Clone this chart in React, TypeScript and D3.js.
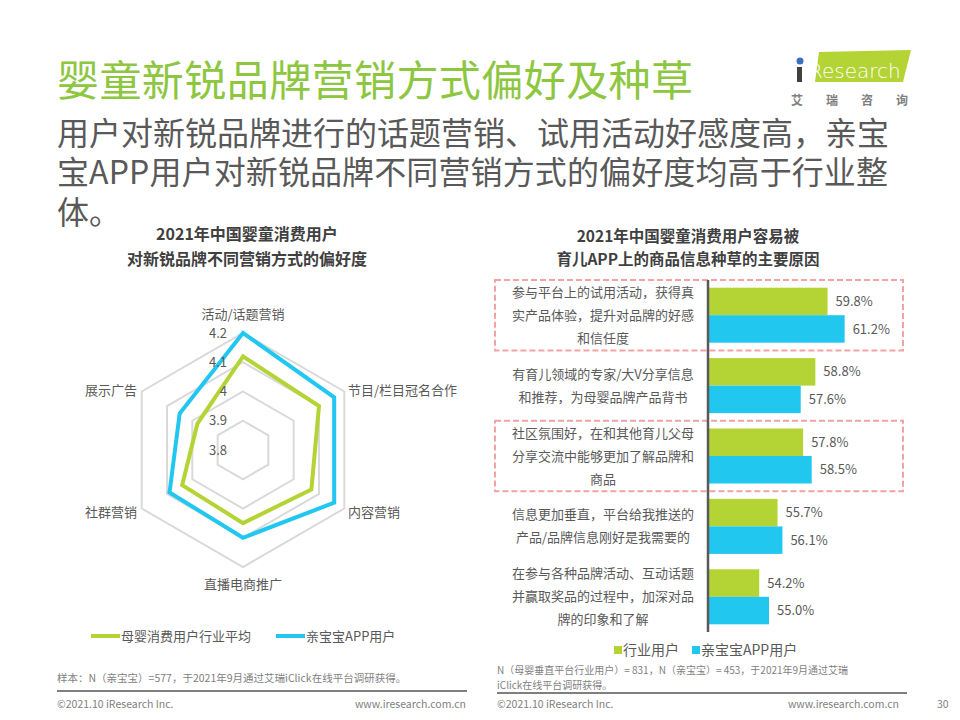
import React from "react";
import * as d3 from "d3";

const radarAxes = ["活动/话题营销", "节目/栏目冠名合作", "内容营销", "直播电商推广", "社群营销", "展示广告"];
const radarIndustry = [4.12, 4.1, 4.07, 4.05, 4.04, 3.98];
const radarApp = [4.2, 4.16, 4.16, 4.1, 4.09, 4.05];
const radarTicks = [3.8, 3.9, 4, 4.1, 4.2];
const radarSeries = ["母婴消费用户行业平均", "亲宝宝APP用户"];

const barCategories = [
  "参与平台上的试用活动，获得真\n实产品体验，提升对品牌的好感\n和信任度",
  "有育儿领域的专家/大V分享信息\n和推荐，为母婴品牌产品背书",
  "社区氛围好，在和其他育儿父母\n分享交流中能够更加了解品牌和\n商品",
  "信息更加垂直，平台给我推送的\n产品/品牌信息刚好是我需要的",
  "在参与各种品牌活动、互动话题\n并赢取奖品的过程中，加深对品\n牌的印象和了解",
];
const barIndustry = [59.8, 58.8, 57.8, 55.7, 54.2];
const barApp = [61.2, 57.6, 58.5, 56.1, 55.0];
const barSeries = ["行业用户", "亲宝宝APP用户"];
const highlighted = [0, 2];

const GREEN = "#b4d334";
const BLUE = "#22c7ef";
const TEXT = "#595959";
const FONT = "'Noto Sans CJK SC', 'Noto Sans', sans-serif";

export default function App() {
  // radar
  const cx = 243, cy = 450;
  const r = d3.scaleLinear().domain([3.8, 4.2]).range([0, 117]);
  const ang = (i: number) => (i * 2 * Math.PI) / radarAxes.length;
  const pt = (i: number, v: number): [number, number] => [cx + r(v) * Math.sin(ang(i)), cy - r(v) * Math.cos(ang(i))];
  const closed = d3.line<[number, number]>().curve(d3.curveLinearClosed);
  const ringPath = (v: number) => closed(radarAxes.map((_, i) => pt(i, v))) as string;
  const seriesPath = (vals: number[]) => closed(vals.map((v, i) => pt(i, v))) as string;

  const labelPos = [
    { x: 243, y: 314, anchor: "middle" },
    { x: 348, y: 390, anchor: "start" },
    { x: 348, y: 512, anchor: "start" },
    { x: 243, y: 584, anchor: "middle" },
    { x: 137, y: 512, anchor: "end" },
    { x: 137, y: 390, anchor: "end" },
  ];

  // bars
  const y0 = d3.scaleBand<number>().domain(barCategories.map((_, i) => i)).range([280, 632]).padding(0);
  const y1 = d3.scaleBand<string>().domain(barSeries).range([0, y0.bandwidth()]).paddingInner(0).paddingOuter(0.28);
  const x = d3.scaleLinear().domain([50, 70]).range([708, 952]);
  const barColors = [GREEN, BLUE];
  const barData = [barIndustry, barApp];

  return (
    <svg width={960} height={720} style={{ display: "block", position: "absolute", left: 0, top: 0 }} fontFamily={FONT}>
      <rect width={960} height={720} fill="#fff" />
      {/* title */}
      <text x={57} y={96} fontSize={42} fill="#8dc63f" textLength={636} lengthAdjust="spacing">婴童新锐品牌营销方式偏好及种草</text>
      <text x={57} y={145} fontSize={32} fill={TEXT}>用户对新锐品牌进行的话题营销、试用活动好感度高，亲宝</text>
      <text x={57} y={184} fontSize={32} fill={TEXT} textLength={831} lengthAdjust="spacing">宝APP用户对新锐品牌不同营销方式的偏好度均高于行业整</text>
      <text x={57} y={224} fontSize={32} fill={TEXT}>体。</text>

      {/* logo */}
      <polygon points="819,52 911,50 903,82 815,82" fill="#b4d334" />
      <circle cx={800} cy={61} r={3.5} fill="#3a6fc4" />
      <rect x={797} y={67} width={5} height={15} fill="#404040" />
      <text x={809} y={78} fontSize={20} fill="#fff" fontFamily="'DejaVu Sans', sans-serif" fontWeight={300}>Research</text>
      {["艾", "瑞", "咨", "询"].map((c, i) => (
        <text key={c} x={797 + i * 35} y={105} fontSize={12} fontWeight="bold" fill="#7f7f7f" textAnchor="middle">{c}</text>
      ))}

      {/* left chart title */}
      <text x={247} y={240} fontSize={16} fontWeight="bold" fill="#404040" textAnchor="middle">2021年中国婴童消费用户</text>
      <text x={247} y={265} fontSize={16} fontWeight="bold" fill="#404040" textAnchor="middle">对新锐品牌不同营销方式的偏好度</text>

      {/* radar rings */}
      {radarTicks.slice(1).map((t) => (
        <path key={t} d={ringPath(t)} fill="none" stroke="#d9d9d9" strokeWidth={2} />
      ))}
      <path d={seriesPath(radarIndustry)} fill="none" stroke={GREEN} strokeWidth={4} strokeLinejoin="miter" />
      <path d={seriesPath(radarApp)} fill="none" stroke={BLUE} strokeWidth={4} strokeLinejoin="miter" />
      {radarTicks.map((t) => (
        <text key={t} x={cx - 16} y={cy - r(t)} dy="0.35em" fontSize={13} fill={TEXT} textAnchor="end">{String(t)}</text>
      ))}
      {radarAxes.map((a, i) => (
        <text key={a} x={labelPos[i].x} y={labelPos[i].y} dy="0.35em" fontSize={13} fill={TEXT} textAnchor={labelPos[i].anchor as any}>{a}</text>
      ))}
      {/* radar legend */}
      {radarSeries.map((s, i) => (
        <g key={s} transform={`translate(${91 + i * 185},636)`}>
          <line x1={0} x2={29} y1={0} y2={0} stroke={i === 0 ? GREEN : BLUE} strokeWidth={4} />
          <text x={30} y={0} dy="0.35em" fontSize={13} fill={TEXT}>{s}</text>
        </g>
      ))}

      {/* right chart title */}
      <text x={688} y={242} fontSize={15.5} fontWeight="bold" fill="#404040" textAnchor="middle">2021年中国婴童消费用户容易被</text>
      <text x={688} y={265} fontSize={15.5} fontWeight="bold" fill="#404040" textAnchor="middle">育儿APP上的商品信息种草的主要原因</text>

      {/* highlight boxes */}
      {highlighted.map((gi) => (
        <rect key={gi} x={495} y={y0(gi)!} width={408} height={y0.bandwidth()} fill="none" stroke="#f4a3a3" strokeWidth={2} strokeDasharray="6,3" />
      ))}

      {/* bars */}
      {barCategories.map((c, gi) => (
        <g key={gi}>
          {barSeries.map((s, si) => {
            const v = barData[si][gi];
            const by = y0(gi)! + y1(s)!;
            return (
              <g key={s}>
                <rect x={x(50)} y={by} width={x(v) - x(50)} height={y1.bandwidth()} fill={barColors[si]} />
                <text x={x(v) + 8} y={by + y1.bandwidth() / 2} dy="0.35em" fontSize={13} fill={TEXT}>{v.toFixed(1)}%</text>
              </g>
            );
          })}
          {c.split("\n").map((line, li, arr) => (
            <text key={li} x={603} y={y0(gi)! + y0.bandwidth() / 2 + (li - (arr.length - 1) / 2) * 23} dy="0.35em" fontSize={13} fill={TEXT} textAnchor="middle">{line}</text>
          ))}
        </g>
      ))}
      <line x1={708} x2={708} y1={280} y2={632} stroke="#595959" strokeWidth={2.5} />

      {/* bar legend */}
      {barSeries.map((s, i) => (
        <g key={s} transform={`translate(${614 + i * 78},650)`}>
          <rect x={0} y={-4} width={8} height={8} fill={barColors[i]} />
          <text x={9} y={0} dy="0.35em" fontSize={14} fill={TEXT}>{s}</text>
        </g>
      ))}

      {/* footnotes */}
      <text x={57} y={678} dy="0.35em" fontSize={10.5} fill="#7f7f7f">样本：N（亲宝宝）=577，于2021年9月通过艾瑞iClick在线平台调研获得。</text>
      <line x1={57} x2={467} y1={691} y2={691} stroke="#7f7f7f" strokeWidth={2} />
      <text x={57} y={704} dy="0.35em" fontSize={10.5} fill="#7f7f7f">©2021.10 iResearch Inc.</text>
      <text x={466} y={704} dy="0.35em" fontSize={10.5} fill="#7f7f7f" textAnchor="end">www.iresearch.com.cn</text>

      <text x={497} y={670} dy="0.35em" fontSize={10} fill="#7f7f7f">N（母婴垂直平台行业用户）= 831，N（亲宝宝）= 453，于2021年9月通过艾瑞</text>
      <text x={497} y={685} dy="0.35em" fontSize={10} fill="#7f7f7f">iClick在线平台调研获得。</text>
      <line x1={497} x2={907} y1={693} y2={693} stroke="#7f7f7f" strokeWidth={2} />
      <text x={497} y={704} dy="0.35em" fontSize={10.5} fill="#7f7f7f">©2021.10 iResearch Inc.</text>
      <text x={899} y={704} dy="0.35em" fontSize={10.5} fill="#7f7f7f" textAnchor="end">www.iresearch.com.cn</text>
      <text x={937} y={704} dy="0.35em" fontSize={10.5} fill="#7f7f7f">30</text>
    </svg>
  );
}
